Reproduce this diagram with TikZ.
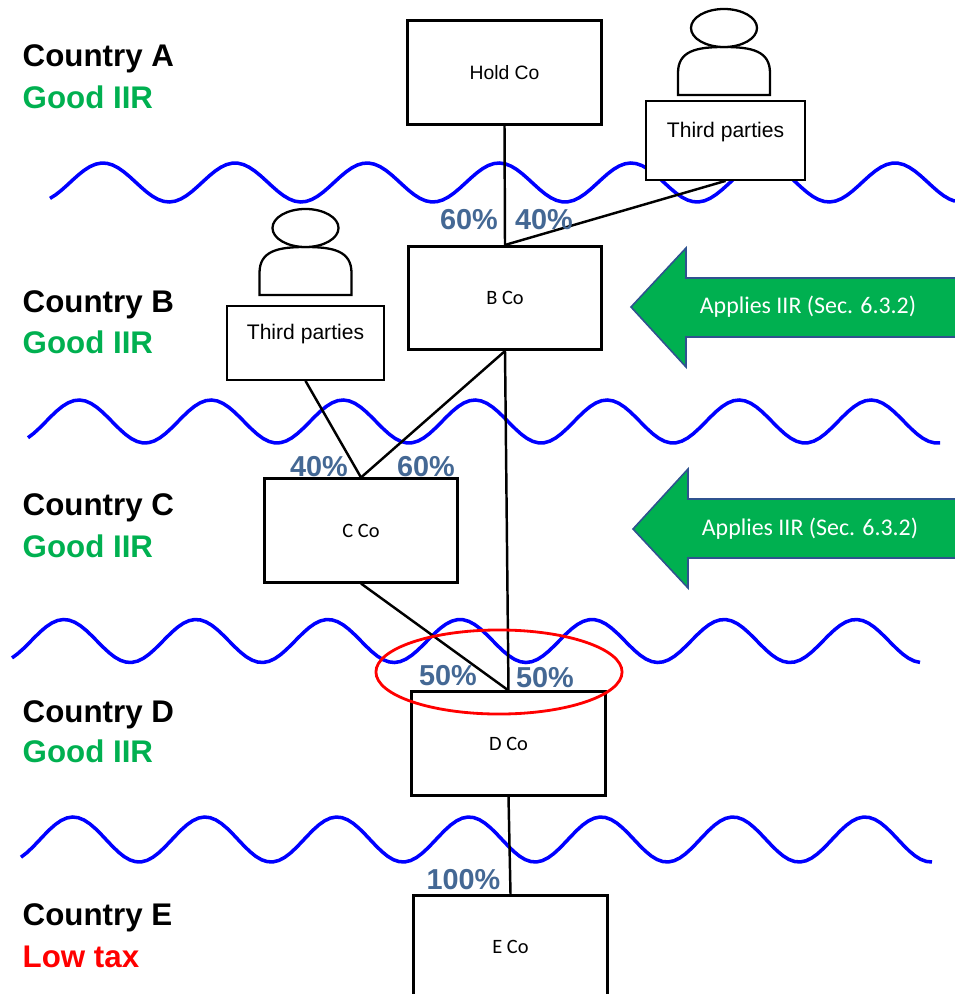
\documentclass[tikz,border=0pt]{standalone}
\usepackage{fontspec}
\setmainfont{Liberation Sans}
\newfontfamily\calibri{Carlito}

\definecolor{iirgreen}{RGB}{0,176,80}
\definecolor{pctblue}{RGB}{68,104,148}
\definecolor{arrowedge}{RGB}{47,82,143}

\tikzset{
  cobox/.style={draw, fill=white, line width=0.85pt, minimum width=1.93cm, minimum height=1.03cm, inner sep=0pt, font=\calibri\fontsize{5.8}{7}\selectfont},
  partybox/.style={draw, fill=white, line width=0.5pt, inner sep=0pt, text depth=0.22cm, font=\fontsize{6}{7}\selectfont},
  pct/.style={text=pctblue, inner sep=0pt, font=\bfseries\fontsize{8.2}{9}\selectfont},
  country/.style={anchor=base west, inner sep=0pt, font=\bfseries\fontsize{8.9}{10}\selectfont},
  iirtext/.style={text=white, inner sep=0pt, font=\calibri\fontsize{6.8}{8}\selectfont},
  iirarrow/.style={fill=iirgreen, draw=arrowedge, line width=0.45pt},
  link/.style={line width=0.7pt},
  wave/.style={blue, line width=1pt},
  personline/.style={line width=0.65pt, fill=white},
  person/.pic={
    \draw[personline] (-46,0) -- (-46,-22) .. controls (-46,-44) and (-28,-48) .. (0,-48)
      .. controls (28,-48) and (46,-44) .. (46,-22) -- (46,0) -- cycle;
    \draw[personline] (0,-67) ellipse [x radius=0.33cm, y radius=0.19cm];
  }
}

\begin{document}
\begin{tikzpicture}[x=0.01cm, y=-0.01cm]
  \useasboundingbox (0,0) rectangle (955,994);
  \clip (0,0) rectangle (955,994);

  % borders between countries
  \draw[wave] plot[domain=50:955, samples=160] (\x, {182.5-19.5*cos((\x-103)/132*360)});
  \draw[wave] plot[domain=28:940, samples=160] (\x, {421.5-21.5*cos((\x-79)/132*360)});
  \draw[wave] plot[domain=12:920, samples=160] (\x, {641-21.5*cos((\x-64)/132*360)});
  \draw[wave] plot[domain=21:932, samples=160] (\x, {839.5-22.5*cos((\x-73)/132*360)});

  \node[country] (ctyA) at (22,66.7) {Country A};
  \node[country, text=iirgreen] (taxA) at (22,109) {Good IIR};
  \node[country] (ctyB) at (22,312) {Country B};
  \node[country, text=iirgreen] (taxB) at (22,353) {Good IIR};
  \node[country] (ctyC) at (22,515) {Country C};
  \node[country, text=iirgreen] (taxC) at (22,557) {Good IIR};
  \node[country] (ctyD) at (22,722) {Country D};
  \node[country, text=iirgreen] (taxD) at (22,762) {Good IIR};
  \node[country] (ctyE) at (22,925) {Country E};
  \node[country, text=red] (taxE) at (22,967) {Low tax};

  \node[cobox, font=\fontsize{5.5}{7}\selectfont] (hold) at (504.5,72.5) {Hold Co};
  \node[cobox] (bco) at (505,298) {B Co};
  \node[cobox] (cco) at (361,530.5) {C Co};
  \node[cobox] (dco) at (508.5,743.5) {D Co};
  \node[cobox] (eco) at (510.5,947) {E Co};

  \pic at (724,95) {person};
  \node[partybox, minimum width=1.59cm, minimum height=0.79cm] (thirdA) at (725.5,140.5) {Third parties};
  \pic at (305.5,295) {person};
  \node[partybox, minimum width=1.57cm, minimum height=0.74cm] (thirdB) at (305.5,343) {Third parties};

  \draw[link] (hold.south) -- (bco.north);
  \draw[link] (thirdA.south) -- (bco.north);
  \draw[link] (thirdB.south) -- (cco.north);
  \draw[link] (bco.south) -- (cco.north);
  \draw[link] (bco.south) -- (dco.north);
  \draw[link] (cco.south) -- (dco.north);
  \draw[link] (dco.south) -- (eco.north);

  \node[pct] (pHoldB) at (469,220) {60\%};
  \node[pct] (pThirdB) at (544,220) {40\%};
  \node[pct] (pThirdC) at (319,467) {40\%};
  \node[pct] (pBC) at (426,467) {60\%};
  \node[pct] (pCD) at (448,676) {50\%};
  \node[pct] (pBD) at (545,678) {50\%};
  \node[pct] (pDE) at (463.5,880) {100\%};

  \draw[iirarrow] (1000,278) -- (686,278) -- (686,248) -- (631,307) -- (686,367) -- (686,337) -- (1000,337) -- cycle;
  \node[iirtext] (iirB) at (808,307) {Applies IIR (Sec. 6.3.2)};
  \draw[iirarrow] (1000,499) -- (688,499) -- (688,469) -- (633,529) -- (688,588) -- (688,558) -- (1000,558) -- cycle;
  \node[iirtext] (iirC) at (810,529) {Applies IIR (Sec. 6.3.2)};

  \draw[red, line width=0.8pt] (499,672) ellipse [x radius=1.23cm, y radius=0.42cm];
\end{tikzpicture}
\end{document}
